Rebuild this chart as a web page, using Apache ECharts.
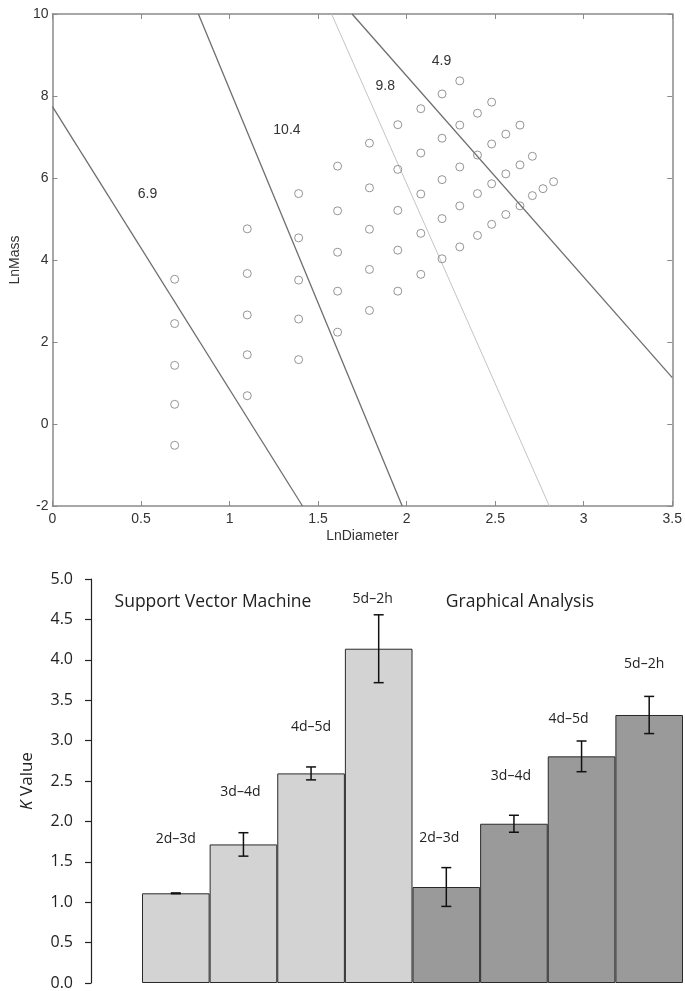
<!DOCTYPE html>
<html>
<head>
<meta charset="utf-8">
<script src="https://cdn.jsdelivr.net/npm/echarts@6/dist/echarts.min.js"></script>
<style>
  body { margin: 0; background: #fff; }
  #chart { width: 685px; height: 991px; }
</style>
</head>
<body>
<div id="chart"></div>
<script>
// ---- top panel: ln(mass) vs ln(diameter) ----
var lnDiameter = [0.69, 1.10, 1.39, 1.61, 1.79, 1.95, 2.08, 2.20, 2.30, 2.40, 2.48, 2.56, 2.64, 2.71, 2.77, 2.83];
var lnMassByColumn = [
	[3.53, 2.45, 1.43, 0.48, -0.52],
	[4.76, 3.67, 2.66, 1.69, 0.69],
	[5.62, 4.54, 3.51, 2.56, 1.57],
	[6.29, 5.20, 4.19, 3.24, 2.24],
	[6.85, 5.76, 4.75, 3.77, 2.77],
	[7.30, 6.21, 5.21, 4.24, 3.24],
	[7.69, 6.61, 5.61, 4.65, 3.65],
	[8.05, 6.97, 5.96, 5.01, 4.03],
	[8.37, 7.29, 6.27, 5.32, 4.32],
	[7.58, 6.56, 5.62, 4.60],
	[7.85, 6.83, 5.86, 4.87],
	[7.07, 6.10, 5.11],
	[7.29, 6.32, 5.32],
	[6.53, 5.57],
	[5.74],
	[5.91]
];
// boundary lines, named by their slope
var lineNames = ['6.9', '10.4', '9.8', '4.9'];
var lineStart = [[0, 7.74], [0.824, 10], [1.576, 10], [1.692, 10]];
var lineEnd = [[1.412, -2], [1.975, -2], [2.806, -2], [3.5, 1.13]];
var lineLabelAt = [[0.537, 5.60], [1.324, 7.17], [1.879, 8.24], [2.197, 8.85]];
var xTicksTop = { min: 0, max: 3.5, step: 0.5 };
var yTicksTop = { min: -2, max: 10, step: 2 };

// ---- bottom panel: K values ----
var ranges = ['2d\u20133d', '3d\u20134d', '4d\u20135d', '5d\u20132h'];
var svmK = [1.11, 1.715, 2.594, 4.137];
var svmErr = [0.005, 0.145, 0.08, 0.42];
var gaK = [1.188, 1.971, 2.805, 3.317];
var gaErr = [0.24, 0.105, 0.19, 0.23];
var yTicksBottom = { min: 0, max: 5, step: 0.5 };

// label placement (layout only)
var rangeLabelAt = [1.78, 2.36, 3.17, 4.75, 1.80, 2.56, 3.27, 3.95];
var rangeLabelShift = [0, -3, 0, -6, -7, -3, -13, -5];

var chartDom = document.getElementById('chart');
var myChart = echarts.init(chartDom);

var points = [];
lnDiameter.forEach(function (x, i) {
	lnMassByColumn[i].forEach(function (y) {
		points.push([x, y]);
	});
});

var categories = ranges.map(function (r) { return 'SVM ' + r; })
	.concat(ranges.map(function (r) { return 'GA ' + r; }));
var svmBars = svmK.concat(gaK.map(function () { return '-'; }));
var gaBars = svmK.map(function () { return '-'; }).concat(gaK);
var errData = [];
svmK.forEach(function (v, i) { errData.push([i, v - svmErr[i], v + svmErr[i]]); });
gaK.forEach(function (v, i) { errData.push([i + 4, v - gaErr[i], v + gaErr[i]]); });
var labelData = rangeLabelAt.map(function (v, i) { return [i, v]; });
var labelTexts = ranges.concat(ranges);

var topFont = 'Liberation Sans, Arial, sans-serif';
var botFont = 'Open Sans, sans-serif';
var frame = '#8a8a8a';

var lineSeries = lineNames.map(function (name, i) {
	return {
		type: 'line',
		name: name,
		xAxisIndex: 0,
		yAxisIndex: 0,
		data: [lineStart[i], lineEnd[i]],
		symbol: 'none',
		silent: true,
		lineStyle: {
			color: name === '9.8' ? '#c4c4c4' : '#6e6e6e',
			width: name === '9.8' ? 1 : 1.3
		}
	};
});

var option = {
	animation: false,
	grid: [
		{ left: 50, top: 14, width: 624, height: 492 },
		{ left: 142, top: 579, width: 541, height: 404 }
	],
	xAxis: [
		{
			gridIndex: 0,
			type: 'value',
			position: 'bottom',
			min: xTicksTop.min,
			max: xTicksTop.max,
			interval: xTicksTop.step,
			name: 'LnDiameter',
			nameLocation: 'middle',
			nameGap: 23,
			nameTextStyle: { fontFamily: topFont, fontSize: 14, color: '#333' },
			axisLine: { onZero: false, lineStyle: { color: frame, width: 1.5 } },
			axisTick: { inside: true, length: 5, lineStyle: { color: frame } },
			axisLabel: { fontFamily: topFont, fontSize: 14, color: '#333', margin: 6 },
			splitLine: { show: false }
		},
		{
			gridIndex: 0,
			type: 'value',
			position: 'top',
			min: xTicksTop.min,
			max: xTicksTop.max,
			interval: xTicksTop.step,
			axisLine: { onZero: false, lineStyle: { color: frame, width: 1.5 } },
			axisTick: { inside: true, length: 5, lineStyle: { color: frame } },
			axisLabel: { show: false },
			splitLine: { show: false }
		},
		{
			gridIndex: 1,
			type: 'category',
			data: categories,
			axisLine: { show: false },
			axisTick: { show: false },
			axisLabel: { show: false }
		}
	],
	yAxis: [
		{
			gridIndex: 0,
			type: 'value',
			position: 'left',
			min: yTicksTop.min,
			max: yTicksTop.max,
			interval: yTicksTop.step,
			name: 'LnMass',
			nameLocation: 'middle',
			nameGap: 24,
			nameTextStyle: { fontFamily: topFont, fontSize: 14, color: '#333' },
			axisLine: { show: true, onZero: false, lineStyle: { color: frame, width: 1.5 } },
			axisTick: { show: true, inside: true, length: 5, lineStyle: { color: frame } },
			axisLabel: { fontFamily: topFont, fontSize: 14, color: '#333', margin: 4 },
			splitLine: { show: false }
		},
		{
			gridIndex: 0,
			type: 'value',
			position: 'right',
			min: yTicksTop.min,
			max: yTicksTop.max,
			interval: yTicksTop.step,
			axisLine: { show: true, onZero: false, lineStyle: { color: frame, width: 1.5 } },
			axisTick: { show: true, inside: true, length: 5, lineStyle: { color: frame } },
			axisLabel: { show: false },
			splitLine: { show: false }
		},
		{
			gridIndex: 1,
			type: 'value',
			min: yTicksBottom.min,
			max: yTicksBottom.max,
			interval: yTicksBottom.step,
			offset: 51,
			name: '{i|K} Value',
			nameLocation: 'middle',
			nameGap: 55,
			nameTextStyle: {
				fontFamily: botFont,
				fontSize: 17,
				color: '#222',
				rich: { i: { fontFamily: botFont, fontSize: 17, fontStyle: 'italic', color: '#222' } }
			},
			axisLine: { show: true, lineStyle: { color: '#222', width: 1.2 } },
			axisTick: { show: true, length: 6, lineStyle: { color: '#222', width: 1.2 } },
			axisLabel: {
				fontFamily: botFont,
				fontSize: 16,
				color: '#222',
				margin: 18,
				formatter: function (v) { return v.toFixed(1); }
			},
			splitLine: { show: false }
		}
	],
	graphic: [
		{
			type: 'text',
			x: 213,
			y: 602,
			style: {
				text: 'Support Vector Machine',
				font: '17.5px Open Sans, sans-serif',
				fill: '#222',
				align: 'center',
				verticalAlign: 'middle'
			}
		},
		{
			type: 'text',
			x: 520,
			y: 602,
			style: {
				text: 'Graphical Analysis',
				font: '17.5px Open Sans, sans-serif',
				fill: '#222',
				align: 'center',
				verticalAlign: 'middle'
			}
		}
	],
	series: lineSeries.concat([
		{
			type: 'scatter',
			xAxisIndex: 0,
			yAxisIndex: 0,
			data: points,
			symbol: 'circle',
			symbolSize: 8,
			silent: true,
			z: 3,
			itemStyle: { color: 'rgba(255,255,255,0)', borderColor: '#7a7a7a', borderWidth: 1 }
		},
		{
			type: 'custom',
			xAxisIndex: 0,
			yAxisIndex: 0,
			data: lineLabelAt,
			silent: true,
			renderItem: function (params, api) {
				var p = api.coord([api.value(0), api.value(1)]);
				return {
					type: 'text',
					x: p[0],
					y: p[1],
					style: {
						text: lineNames[params.dataIndex],
						font: '14px ' + topFont,
						fill: '#333',
						align: 'center',
						verticalAlign: 'middle'
					}
				};
			}
		},
		{
			type: 'bar',
			xAxisIndex: 2,
			yAxisIndex: 2,
			data: svmBars,
			barGap: '-100%',
			barCategoryGap: '0%',
			itemStyle: { color: '#d3d3d3', borderColor: '#2a2a2a', borderWidth: 1 }
		},
		{
			type: 'bar',
			xAxisIndex: 2,
			yAxisIndex: 2,
			data: gaBars,
			barGap: '-100%',
			barCategoryGap: '0%',
			itemStyle: { color: '#9a9a9a', borderColor: '#2a2a2a', borderWidth: 1 }
		},
		{
			type: 'custom',
			xAxisIndex: 2,
			yAxisIndex: 2,
			data: errData,
			silent: true,
			z: 5,
			renderItem: function (params, api) {
				var lo = api.coord([api.value(0), api.value(1)]);
				var hi = api.coord([api.value(0), api.value(2)]);
				var half = 5;
				var st = { stroke: '#111', lineWidth: 1.5 };
				return {
					type: 'group',
					children: [
						{ type: 'line', shape: { x1: hi[0], y1: hi[1], x2: lo[0], y2: lo[1] }, style: st },
						{ type: 'line', shape: { x1: hi[0] - half, y1: hi[1], x2: hi[0] + half, y2: hi[1] }, style: st },
						{ type: 'line', shape: { x1: lo[0] - half, y1: lo[1], x2: lo[0] + half, y2: lo[1] }, style: st }
					]
				};
			}
		},
		{
			type: 'custom',
			xAxisIndex: 2,
			yAxisIndex: 2,
			data: labelData,
			silent: true,
			renderItem: function (params, api) {
				var p = api.coord([api.value(0), api.value(1)]);
				return {
					type: 'text',
					x: p[0] + rangeLabelShift[params.dataIndex],
					y: p[1],
					style: {
						text: labelTexts[params.dataIndex],
						font: '14px ' + botFont,
						fill: '#222',
						align: 'center',
						verticalAlign: 'middle'
					}
				};
			}
		}
	])
};

option && myChart.setOption(option);
</script>
</body>
</html>
